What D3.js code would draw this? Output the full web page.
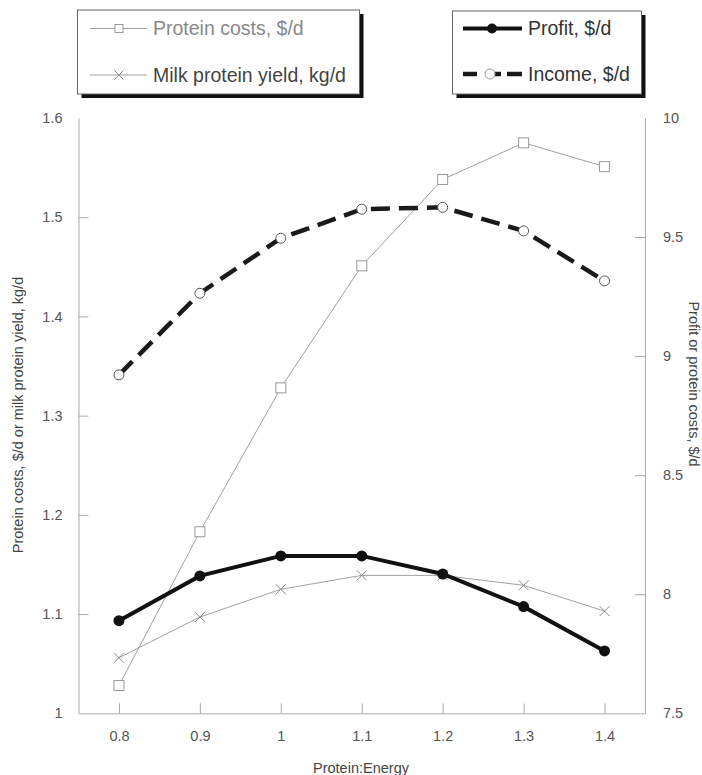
<!DOCTYPE html>
<html lang="en">
<head>
<meta charset="UTF-8">
<script src="https://d3js.org/d3.v7.min.js"></script>
<title>Protein:Energy</title>
<style>
  body { margin: 0; background: #fff; }
  text { font-family: "Liberation Sans", Arial, Helvetica, sans-serif; }
</style>
</head>
<body>
<svg id="chart" width="702" height="775"></svg>
<script>
// data
const pe = [0.8, 0.9, 1.0, 1.1, 1.2, 1.3, 1.4];
const proteinCosts = [1.028, 1.183, 1.328, 1.451, 1.538, 1.575, 1.551];
const milkYield = [1.056, 1.097, 1.125, 1.139, 1.139, 1.129, 1.103];
const profit = [7.889, 8.077, 8.161, 8.161, 8.085, 7.948, 7.762];
const income = [8.921, 9.264, 9.495, 9.617, 9.625, 9.526, 9.316];

const xTicks = [0.8, 0.9, 1.0, 1.1, 1.2, 1.3, 1.4];
const leftTicks = [1, 1.1, 1.2, 1.3, 1.4, 1.5, 1.6];
const rightTicks = [7.5, 8, 8.5, 9, 9.5, 10];

const svg = d3.select("#chart");
const axisColor = "#aaa", labelColor = "#555";

const x = d3.scaleLinear().domain([0.75, 1.45]).range([78.5, 645]);
const yL = d3.scaleLinear().domain([1, 1.6]).range([713.3, 118]);
const yR = d3.scaleLinear().domain([7.5, 10]).range([713.3, 118]);

// axes
function styleAxis(g, ends) {
  g.select(".domain").attr("stroke", axisColor);
  g.selectAll(".tick line").attr("stroke", axisColor)
    .filter(d => ends.includes(d)).remove();
  g.selectAll(".tick text").attr("fill", labelColor)
    .style("font-size", "14.5px").style("font-family", '"Liberation Sans", Arial, sans-serif');
}

svg.append("g").attr("transform", "translate(0,713.3)")
  .call(d3.axisBottom(x).tickValues(xTicks).tickSizeInner(-10).tickSizeOuter(0)
    .tickPadding(17).tickFormat(d3.format("")))
  .call(g => styleAxis(g, []));

svg.append("g").attr("transform", "translate(78.5,0)")
  .call(d3.axisLeft(yL).tickValues(leftTicks).tickSizeInner(-10).tickSizeOuter(0)
    .tickPadding(16).tickFormat(d3.format("")))
  .call(g => styleAxis(g, [1, 1.6]));

svg.append("g").attr("transform", "translate(645,0)")
  .call(d3.axisRight(yR).tickValues(rightTicks).tickSizeInner(-10).tickSizeOuter(0)
    .tickPadding(18).tickFormat(d3.format("")))
  .call(g => styleAxis(g, [7.5, 10]));

// axis titles
svg.append("text").attr("x", 361).attr("y", 773).attr("text-anchor", "middle")
  .attr("fill", "#444").style("font-size", "14.5px").text("Protein:Energy");
svg.append("text").attr("transform", "translate(23,415) rotate(-90)")
  .attr("text-anchor", "middle").attr("fill", "#444").style("font-size", "14.5px")
  .text("Protein costs, $/d or milk protein yield, kg/d");
svg.append("text").attr("transform", "translate(689,384) rotate(90)")
  .attr("text-anchor", "middle").attr("fill", "#444").style("font-size", "14.5px")
  .text("Profit or protein costs, $/d");

// series
const pts = (vals, y) => vals.map((v, i) => [x(pe[i]), y(v)]);
const line = d3.line();

const costPts = pts(proteinCosts, yL);
const milkPts = pts(milkYield, yL);
const profitPts = pts(profit, yR);
const incomePts = pts(income, yR);

svg.append("path").attr("d", line(costPts)).attr("fill", "none")
  .attr("stroke", "#a0a0a0").attr("stroke-width", 1);
svg.append("path").attr("d", line(milkPts)).attr("fill", "none")
  .attr("stroke", "#a0a0a0").attr("stroke-width", 1);

function squares(g, p, s) {
  g.selectAll(null).data(p).join("rect")
    .attr("x", d => d[0] - s / 2).attr("y", d => d[1] - s / 2)
    .attr("width", s).attr("height", s)
    .attr("fill", "#fff").attr("stroke", "#999").attr("stroke-width", 1);
}
function crosses(g, p, s) {
  g.selectAll(null).data(p).join("path")
    .attr("d", d => `M${d[0]-s/2},${d[1]-s/2}L${d[0]+s/2},${d[1]+s/2}M${d[0]-s/2},${d[1]+s/2}L${d[0]+s/2},${d[1]-s/2}`)
    .attr("stroke", "#888").attr("stroke-width", 1);
}
squares(svg.append("g"), costPts, 10);
crosses(svg.append("g"), milkPts, 10);

svg.append("path").attr("d", line(incomePts)).attr("fill", "none")
  .attr("stroke", "#1a1a1a").attr("stroke-width", 4.5)
  .attr("stroke-dasharray", "19,9");
svg.append("path").attr("d", line(profitPts)).attr("fill", "none")
  .attr("stroke", "#111").attr("stroke-width", 4);

svg.append("g").selectAll("circle").data(profitPts).join("circle")
  .attr("cx", d => d[0]).attr("cy", d => d[1]).attr("r", 5.5).attr("fill", "#111");
svg.append("g").selectAll("circle").data(incomePts).join("circle")
  .attr("cx", d => d[0]).attr("cy", d => d[1]).attr("r", 5)
  .attr("fill", "#fff").attr("stroke", "#555").attr("stroke-width", 1);

// legends
function legendBox(x0, y0, w, h) {
  svg.append("rect").attr("x", x0 + 4).attr("y", y0 + 4).attr("width", w).attr("height", h)
    .attr("fill", "#111");
  svg.append("rect").attr("x", x0).attr("y", y0).attr("width", w).attr("height", h)
    .attr("fill", "#fff").attr("stroke", "#666").attr("stroke-width", 1);
}
legendBox(77.5, 10, 282, 84);
legendBox(452.5, 11, 189, 83);

const lg = svg.append("g");
// left box
lg.append("line").attr("x1", 90).attr("x2", 147).attr("y1", 28.5).attr("y2", 28.5)
  .attr("stroke", "#a0a0a0");
squares(lg.append("g"), [[119, 28.5]], 8);
lg.append("line").attr("x1", 90).attr("x2", 147).attr("y1", 75).attr("y2", 75)
  .attr("stroke", "#a0a0a0");
crosses(lg.append("g"), [[119, 75]], 9);
lg.append("text").attr("x", 153).attr("y", 35).attr("fill", "#888")
  .style("font-size", "19.5px").text("Protein costs, $/d");
lg.append("text").attr("x", 153).attr("y", 82).attr("fill", "#444")
  .style("font-size", "19.5px").text("Milk protein yield, kg/d");

// right box
lg.append("line").attr("x1", 463).attr("x2", 522).attr("y1", 28.5).attr("y2", 28.5)
  .attr("stroke", "#111").attr("stroke-width", 4);
lg.append("circle").attr("cx", 492).attr("cy", 28.5).attr("r", 5).attr("fill", "#111");
lg.append("path").attr("d", "M463,74H477M494,74H501M507,74H522").attr("stroke", "#1a1a1a")
  .attr("stroke-width", 4.5);
lg.append("circle").attr("cx", 490).attr("cy", 74).attr("r", 5)
  .attr("fill", "#fff").attr("stroke", "#999");
lg.append("text").attr("x", 528).attr("y", 35).attr("fill", "#333")
  .style("font-size", "19.5px").text("Profit, $/d");
lg.append("text").attr("x", 528).attr("y", 81).attr("fill", "#333")
  .style("font-size", "19.5px").text("Income, $/d");
</script>
</body>
</html>
